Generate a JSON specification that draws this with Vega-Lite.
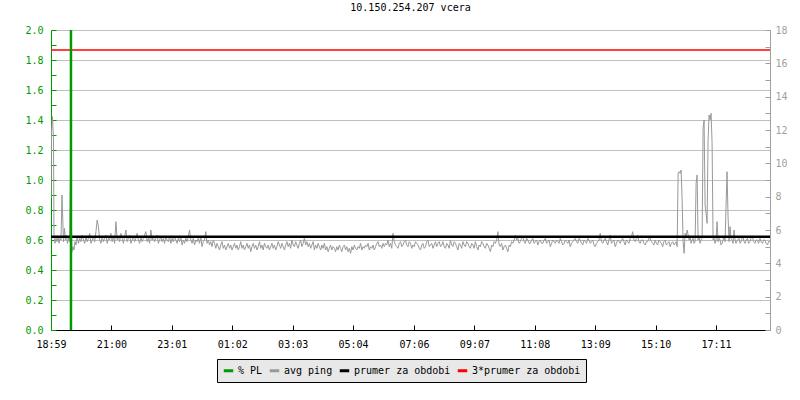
{
  "$schema": "https://vega.github.io/schema/vega-lite/v6.json",
  "width": 719,
  "height": 300,
  "autosize": "none",
  "padding": {"left": 51, "top": 30, "right": 30, "bottom": 70},
  "background": "white",
  "config": {
    "view": {"stroke": null},
    "font": "DejaVu Sans Mono",
    "axis": {"labelFont": "DejaVu Sans Mono", "labelFontSize": 10, "titleFont": "DejaVu Sans Mono", "labelOverlap": false},
    "legend": {"labelFont": "DejaVu Sans Mono", "labelFontSize": 10}
  },
  "title": {"text": "10.150.254.207 vcera", "font": "DejaVu Sans Mono", "fontSize": 10, "fontWeight": "normal", "color": "black", "anchor": "middle", "offset": 12},
  "datasets": {
    "ping": [
      {"t":0,"ms":7.9},{"t":1,"ms":11.9},{"t":3,"ms":12.8},{"t":5,"ms":11.4},{"t":6,"ms":5.6},{"t":8,"ms":5.2},{"t":10,"ms":5.5},{"t":12,"ms":5.3},{"t":14,"ms":5.6},{"t":16,"ms":5.2},{"t":18,"ms":5.5},{"t":20,"ms":5.4},
      {"t":22,"ms":8.1},{"t":23,"ms":7.2},{"t":25,"ms":5.3},{"t":27,"ms":6.1},{"t":29,"ms":5.4},{"t":31,"ms":5.7},{"t":33,"ms":5.2},{"t":35,"ms":5.5},{"t":37,"ms":5.3},{"t":39,"ms":9.1},{"t":40,"ms":7.4},{"t":42,"ms":4.7},
      {"t":44,"ms":5.0},{"t":46,"ms":4.8},{"t":48,"ms":5.3},{"t":50,"ms":5.1},
      {"t":52.5,"ms":5.6},{"t":55,"ms":5.2},{"t":57.5,"ms":5.5},{"t":60,"ms":5.3},{"t":62.5,"ms":5.7},{"t":65,"ms":5.4},{"t":67.5,"ms":5.2},{"t":70,"ms":5.6},
      {"t":72.5,"ms":5.3},{"t":75,"ms":5.5},{"t":77.5,"ms":5.8},{"t":80,"ms":5.2},{"t":82.5,"ms":5.4},{"t":85,"ms":5.6},{"t":87.5,"ms":5.3},{"t":90,"ms":5.9},
      {"t":92.5,"ms":6.6},{"t":95,"ms":6.2},{"t":97.5,"ms":5.4},{"t":100,"ms":5.2},{"t":102.5,"ms":5.6},{"t":105,"ms":5.3},{"t":107.5,"ms":5.5},{"t":110,"ms":5.7},
      {"t":112.5,"ms":5.2},{"t":115,"ms":5.5},{"t":117.5,"ms":5.4},{"t":120,"ms":5.8},{"t":122.5,"ms":5.3},{"t":125,"ms":5.6},{"t":127.5,"ms":5.2},{"t":130,"ms":6.5},
      {"t":132.5,"ms":5.4},{"t":135,"ms":5.6},{"t":137.5,"ms":5.3},{"t":140,"ms":5.8},{"t":142.5,"ms":5.5},{"t":145,"ms":5.2},{"t":147.5,"ms":5.6},{"t":150,"ms":6.0},
      {"t":152.5,"ms":5.3},{"t":155,"ms":5.5},{"t":157.5,"ms":5.7},{"t":160,"ms":5.2},{"t":162.5,"ms":5.4},{"t":165,"ms":5.6},{"t":167.5,"ms":5.3},{"t":170,"ms":5.5},
      {"t":172.5,"ms":5.8},{"t":175,"ms":5.4},{"t":177.5,"ms":5.2},{"t":180,"ms":5.6},{"t":182.5,"ms":5.3},{"t":185,"ms":5.5},{"t":187.5,"ms":5.7},{"t":190,"ms":5.9},
      {"t":192.5,"ms":5.3},{"t":195,"ms":5.5},{"t":197.5,"ms":5.2},{"t":200,"ms":6.0},{"t":202.5,"ms":5.4},{"t":205,"ms":5.6},{"t":207.5,"ms":5.3},{"t":210,"ms":5.5},
      {"t":212.5,"ms":5.7},{"t":215,"ms":5.2},{"t":217.5,"ms":5.4},{"t":220,"ms":5.6},{"t":222.5,"ms":5.3},{"t":225,"ms":5.5},{"t":227.5,"ms":5.2},{"t":230,"ms":5.6},
      {"t":232.5,"ms":5.4},{"t":235,"ms":5.3},{"t":237.5,"ms":5.6},{"t":240,"ms":5.2},{"t":242.5,"ms":5.5},{"t":245,"ms":5.3},{"t":247.5,"ms":5.6},{"t":250,"ms":5.4},
      {"t":252.5,"ms":5.2},{"t":255,"ms":5.5},{"t":257.5,"ms":5.3},{"t":260,"ms":5.6},{"t":262.5,"ms":5.1},{"t":265,"ms":5.4},{"t":267.5,"ms":5.2},{"t":270,"ms":5.5},
      {"t":272.5,"ms":5.3},{"t":275,"ms":5.6},{"t":277.5,"ms":6.0},{"t":280,"ms":5.4},{"t":282.5,"ms":5.2},{"t":285,"ms":5.5},{"t":287.5,"ms":5.1},{"t":290,"ms":5.4},
      {"t":292.5,"ms":5.3},{"t":295,"ms":5.5},{"t":297.5,"ms":5.2},{"t":300,"ms":5.6},{"t":302.5,"ms":5.0},{"t":305,"ms":5.3},{"t":307.5,"ms":5.4},{"t":310,"ms":5.9},
      {"t":312.5,"ms":5.2},{"t":315,"ms":5.4},{"t":317.5,"ms":5.1},{"t":320,"ms":5.3},{"t":322.5,"ms":5.0},{"t":325,"ms":5.4},{"t":327.5,"ms":5.2},{"t":330,"ms":4.9},
      {"t":332.5,"ms":5.2},{"t":335,"ms":5.0},{"t":337.5,"ms":4.8},{"t":340,"ms":5.1},{"t":342.5,"ms":5.3},{"t":345,"ms":4.9},{"t":347.5,"ms":5.1},{"t":350,"ms":4.8},
      {"t":352.5,"ms":5.0},{"t":355,"ms":5.2},{"t":357.5,"ms":4.9},{"t":360,"ms":5.1},{"t":362.5,"ms":4.8},{"t":365,"ms":5.0},{"t":367.5,"ms":5.2},{"t":370,"ms":4.9},
      {"t":372.5,"ms":5.1},{"t":375,"ms":4.8},{"t":377.5,"ms":5.0},{"t":380,"ms":5.3},{"t":382.5,"ms":4.9},{"t":385,"ms":5.1},{"t":387.5,"ms":4.8},{"t":390,"ms":5.0},
      {"t":392.5,"ms":5.2},{"t":395,"ms":4.9},{"t":397.5,"ms":5.1},{"t":400,"ms":4.7},{"t":402.5,"ms":5.0},{"t":405,"ms":5.2},{"t":407.5,"ms":4.9},{"t":410,"ms":5.1},
      {"t":412.5,"ms":4.8},{"t":415,"ms":5.0},{"t":417.5,"ms":5.3},{"t":420,"ms":4.9},{"t":422.5,"ms":5.1},{"t":425,"ms":4.8},{"t":427.5,"ms":5.2},{"t":430,"ms":5.0},
      {"t":432.5,"ms":4.9},{"t":435,"ms":5.1},{"t":437.5,"ms":4.8},{"t":440,"ms":5.0},{"t":442.5,"ms":5.2},{"t":445,"ms":4.9},{"t":447.5,"ms":5.1},{"t":450,"ms":4.8},
      {"t":452.5,"ms":5.0},{"t":455,"ms":5.3},{"t":457.5,"ms":5.1},{"t":460,"ms":4.9},{"t":462.5,"ms":5.2},{"t":465,"ms":5.0},{"t":467.5,"ms":4.8},{"t":470,"ms":5.1},
      {"t":472.5,"ms":5.3},{"t":475,"ms":5.0},{"t":477.5,"ms":5.2},{"t":480,"ms":4.9},{"t":482.5,"ms":5.4},{"t":485,"ms":5.1},{"t":487.5,"ms":5.0},{"t":490,"ms":5.3},
      {"t":492.5,"ms":5.1},{"t":495,"ms":4.9},{"t":497.5,"ms":5.2},{"t":500,"ms":5.4},{"t":502.5,"ms":5.0},{"t":505,"ms":5.2},{"t":507.5,"ms":5.5},{"t":510,"ms":5.1},
      {"t":512.5,"ms":5.3},{"t":515,"ms":5.0},{"t":517.5,"ms":5.2},{"t":520,"ms":4.9},{"t":522.5,"ms":5.1},{"t":525,"ms":5.3},{"t":527.5,"ms":4.8},{"t":530,"ms":5.1},
      {"t":532.5,"ms":4.9},{"t":535,"ms":5.2},{"t":537.5,"ms":5.0},{"t":540,"ms":4.8},{"t":542.5,"ms":5.1},{"t":545,"ms":4.9},{"t":547.5,"ms":5.2},{"t":550,"ms":4.8},
      {"t":552.5,"ms":5.0},{"t":555,"ms":4.7},{"t":557.5,"ms":4.9},{"t":560,"ms":5.1},{"t":562.5,"ms":4.8},{"t":565,"ms":5.0},{"t":567.5,"ms":4.9},{"t":570,"ms":4.7},
      {"t":572.5,"ms":5.0},{"t":575,"ms":4.8},{"t":577.5,"ms":5.1},{"t":580,"ms":4.9},{"t":582.5,"ms":4.7},{"t":585,"ms":5.0},{"t":587.5,"ms":5.1},{"t":590,"ms":4.8},
      {"t":592.5,"ms":5.0},{"t":595,"ms":4.7},{"t":597.5,"ms":4.9},{"t":600,"ms":4.6},{"t":602.5,"ms":5.0},{"t":605,"ms":4.8},{"t":607.5,"ms":5.1},{"t":610,"ms":4.9},
      {"t":612.5,"ms":4.8},{"t":615,"ms":5.0},{"t":617.5,"ms":4.9},{"t":620,"ms":5.2},{"t":622.5,"ms":4.8},{"t":625,"ms":5.0},{"t":627.5,"ms":4.9},{"t":630,"ms":5.1},
      {"t":632.5,"ms":5.0},{"t":635,"ms":5.2},{"t":637.5,"ms":4.8},{"t":640,"ms":5.0},{"t":642.5,"ms":4.9},{"t":645,"ms":5.1},{"t":647.5,"ms":4.8},{"t":650,"ms":5.0},
      {"t":652.5,"ms":5.2},{"t":655,"ms":5.3},{"t":657.5,"ms":5.0},{"t":660,"ms":5.1},{"t":662.5,"ms":4.9},{"t":665,"ms":5.2},{"t":667.5,"ms":5.0},{"t":670,"ms":5.2},
      {"t":672.5,"ms":5.1},{"t":675,"ms":5.4},{"t":677.5,"ms":5.0},{"t":680,"ms":5.2},{"t":682.5,"ms":4.9},{"t":685,"ms":5.8},{"t":687.5,"ms":5.3},{"t":690,"ms":5.1},
      {"t":692.5,"ms":5.0},{"t":695,"ms":4.9},{"t":697.5,"ms":5.2},{"t":700,"ms":5.3},{"t":702.5,"ms":5.0},{"t":705,"ms":5.1},{"t":707.5,"ms":5.3},{"t":710,"ms":5.4},
      {"t":712.5,"ms":5.1},{"t":715,"ms":5.0},{"t":717.5,"ms":5.3},{"t":720,"ms":5.2},{"t":722.5,"ms":4.9},{"t":725,"ms":5.1},{"t":727.5,"ms":5.0},{"t":730,"ms":5.3},
      {"t":732.5,"ms":5.2},{"t":735,"ms":5.1},{"t":737.5,"ms":4.9},{"t":740,"ms":4.8},{"t":742.5,"ms":5.1},{"t":745,"ms":5.2},{"t":747.5,"ms":4.9},{"t":750,"ms":5.0},
      {"t":752.5,"ms":5.3},{"t":755,"ms":5.4},{"t":757.5,"ms":5.0},{"t":760,"ms":5.1},{"t":762.5,"ms":5.2},{"t":765,"ms":4.9},{"t":767.5,"ms":5.1},{"t":770,"ms":5.3},
      {"t":772.5,"ms":5.0},{"t":775,"ms":5.2},{"t":777.5,"ms":5.3},{"t":780,"ms":5.0},{"t":782.5,"ms":5.1},{"t":785,"ms":5.3},{"t":787.5,"ms":5.0},{"t":790,"ms":4.9},
      {"t":792.5,"ms":5.2},{"t":795,"ms":5.1},{"t":797.5,"ms":4.9},{"t":800,"ms":5.4},{"t":802.5,"ms":5.1},{"t":805,"ms":5.0},{"t":807.5,"ms":5.3},{"t":810,"ms":5.2},
      {"t":812.5,"ms":5.0},{"t":815,"ms":4.8},{"t":817.5,"ms":5.2},{"t":820,"ms":5.1},{"t":822.5,"ms":4.9},{"t":825,"ms":5.3},{"t":827.5,"ms":5.1},{"t":830,"ms":5.0},
      {"t":832.5,"ms":5.3},{"t":835,"ms":5.2},{"t":837.5,"ms":5.0},{"t":840,"ms":4.9},{"t":842.5,"ms":5.2},{"t":845,"ms":5.1},{"t":847.5,"ms":4.9},{"t":850,"ms":5.3},
      {"t":852.5,"ms":5.0},{"t":855,"ms":4.8},{"t":857.5,"ms":5.1},{"t":860,"ms":5.0},{"t":862.5,"ms":5.3},{"t":865,"ms":5.2},{"t":867.5,"ms":5.0},{"t":870,"ms":4.9},
      {"t":872.5,"ms":5.2},{"t":875,"ms":5.1},{"t":877.5,"ms":4.9},{"t":880,"ms":4.7},{"t":882.5,"ms":5.1},{"t":885,"ms":5.0},{"t":887.5,"ms":5.3},{"t":890,"ms":5.2},
      {"t":892.5,"ms":5.4},{"t":895,"ms":5.9},{"t":897.5,"ms":5.1},{"t":900,"ms":5.0},{"t":902.5,"ms":5.2},{"t":905,"ms":4.8},{"t":907.5,"ms":5.0},{"t":910,"ms":5.1},
      {"t":912.5,"ms":4.9},{"t":915,"ms":4.7},{"t":917.5,"ms":5.1},{"t":920,"ms":5.0},{"t":922.5,"ms":5.3},{"t":925,"ms":5.2},{"t":927.5,"ms":5.4},{"t":930,"ms":5.7},
      {"t":932.5,"ms":5.4},{"t":935,"ms":5.5},{"t":937.5,"ms":5.2},{"t":940,"ms":5.3},{"t":942.5,"ms":5.5},{"t":945,"ms":5.6},{"t":947.5,"ms":5.3},{"t":950,"ms":5.2},
      {"t":952.5,"ms":5.5},{"t":955,"ms":5.4},{"t":957.5,"ms":5.2},{"t":960,"ms":5.2},{"t":962.5,"ms":5.4},{"t":965,"ms":5.5},{"t":967.5,"ms":5.2},{"t":970,"ms":5.3},
      {"t":972.5,"ms":5.4},{"t":975,"ms":5.1},{"t":977.5,"ms":5.3},{"t":980,"ms":5.4},{"t":982.5,"ms":5.2},{"t":985,"ms":5.2},{"t":987.5,"ms":5.4},{"t":990,"ms":5.5},
      {"t":992.5,"ms":5.2},{"t":995,"ms":5.3},{"t":997.5,"ms":5.4},{"t":1000,"ms":5.0},{"t":1002.5,"ms":5.2},{"t":1005,"ms":5.4},{"t":1007.5,"ms":5.3},{"t":1010,"ms":5.2},
      {"t":1012.5,"ms":5.4},{"t":1015,"ms":5.3},{"t":1017.5,"ms":5.2},{"t":1020,"ms":5.5},{"t":1022.5,"ms":5.3},{"t":1025,"ms":5.1},{"t":1027.5,"ms":5.2},{"t":1030,"ms":5.4},
      {"t":1032.5,"ms":5.3},{"t":1035,"ms":5.2},{"t":1037.5,"ms":5.4},{"t":1040,"ms":5.0},{"t":1042.5,"ms":5.2},{"t":1045,"ms":5.3},{"t":1047.5,"ms":5.4},{"t":1050,"ms":5.5},
      {"t":1052.5,"ms":5.3},{"t":1055,"ms":5.2},{"t":1057.5,"ms":5.5},{"t":1060,"ms":5.4},{"t":1062.5,"ms":5.2},{"t":1065,"ms":5.1},{"t":1067.5,"ms":5.4},{"t":1070,"ms":5.3},
      {"t":1072.5,"ms":5.2},{"t":1075,"ms":5.5},{"t":1077.5,"ms":5.4},{"t":1080,"ms":5.2},{"t":1082.5,"ms":5.3},{"t":1085,"ms":5.4},{"t":1087.5,"ms":5.1},{"t":1090,"ms":5.0},
      {"t":1092.5,"ms":5.2},{"t":1095,"ms":5.3},{"t":1097.5,"ms":5.4},{"t":1100,"ms":5.8},{"t":1102.5,"ms":5.3},{"t":1105,"ms":5.2},{"t":1107.5,"ms":5.4},{"t":1110,"ms":5.5},
      {"t":1112.5,"ms":5.3},{"t":1115,"ms":5.1},{"t":1117.5,"ms":5.4},{"t":1120,"ms":5.7},{"t":1122.5,"ms":5.2},{"t":1125,"ms":5.3},{"t":1127.5,"ms":5.4},{"t":1130,"ms":5.0},
      {"t":1132.5,"ms":5.2},{"t":1135,"ms":5.4},{"t":1137.5,"ms":5.3},{"t":1140,"ms":5.2},{"t":1142.5,"ms":5.4},{"t":1145,"ms":5.5},{"t":1147.5,"ms":5.3},{"t":1150,"ms":5.1},
      {"t":1152.5,"ms":5.4},{"t":1155,"ms":5.3},{"t":1157.5,"ms":5.2},{"t":1160,"ms":5.5},{"t":1162.5,"ms":5.6},{"t":1165,"ms":5.9},{"t":1167.5,"ms":5.4},{"t":1170,"ms":5.3},
      {"t":1172.5,"ms":5.5},{"t":1175,"ms":5.7},{"t":1177.5,"ms":5.3},{"t":1180,"ms":5.2},{"t":1182.5,"ms":5.4},{"t":1185,"ms":5.4},{"t":1187.5,"ms":5.2},{"t":1190,"ms":5.1},
      {"t":1192.5,"ms":5.3},{"t":1195,"ms":5.3},{"t":1197.5,"ms":5.5},{"t":1200,"ms":5.5},{"t":1202.5,"ms":5.3},{"t":1205,"ms":5.2},{"t":1207.5,"ms":5.1},{"t":1210,"ms":5.4},
      {"t":1212.5,"ms":5.2},{"t":1215,"ms":5.1},{"t":1217.5,"ms":5.4},{"t":1220,"ms":5.3},{"t":1222.5,"ms":5.2},{"t":1225,"ms":5.0},{"t":1227.5,"ms":5.3},{"t":1230,"ms":5.4},
      {"t":1232.5,"ms":5.1},{"t":1235,"ms":5.2},{"t":1237.5,"ms":5.3},{"t":1240,"ms":5.0},{"t":1242.5,"ms":5.2},{"t":1245,"ms":5.3},
      {"t":1248,"ms":5.1},{"t":1250,"ms":5.2},{"t":1252,"ms":5.3},{"t":1254,"ms":5.0},{"t":1256,"ms":9.4},{"t":1258,"ms":9.5},{"t":1260,"ms":9.4},{"t":1262,"ms":9.6},{"t":1264,"ms":7.8},{"t":1266,"ms":5.3},{"t":1268,"ms":4.6},{"t":1270,"ms":5.8},{"t":1272,"ms":5.6},{"t":1274,"ms":6.0},
      {"t":1276,"ms":5.7},{"t":1278,"ms":5.4},{"t":1280,"ms":5.6},{"t":1282,"ms":5.2},{"t":1284,"ms":5.4},{"t":1286,"ms":5.5},{"t":1288,"ms":5.2},{"t":1290,"ms":5.3},{"t":1292,"ms":8.8},{"t":1294,"ms":9.3},{"t":1296,"ms":5.4},{"t":1298,"ms":5.6},{"t":1300,"ms":5.2},{"t":1302,"ms":5.4},{"t":1304,"ms":5.5},{"t":1306,"ms":12.1},{"t":1308,"ms":12.6},{"t":1310,"ms":7.5},
      {"t":1312,"ms":7.0},{"t":1314,"ms":6.4},{"t":1316,"ms":11.4},{"t":1318,"ms":12.9},{"t":1320,"ms":12.6},{"t":1322,"ms":13.0},{"t":1324,"ms":11.2},{"t":1326,"ms":5.4},{"t":1328,"ms":5.5},{"t":1330,"ms":5.2},{"t":1332,"ms":5.4},{"t":1334,"ms":6.5},{"t":1336,"ms":5.3},{"t":1338,"ms":5.5},{"t":1340,"ms":5.4},
      {"t":1342,"ms":5.1},{"t":1344,"ms":5.2},{"t":1346,"ms":5.4},{"t":1348,"ms":5.6},{"t":1350,"ms":5.3},{"t":1352,"ms":7.5},{"t":1354,"ms":9.5},{"t":1356,"ms":6.8},{"t":1358,"ms":5.3},{"t":1360,"ms":6.2},{"t":1362,"ms":5.5},{"t":1364,"ms":5.4},{"t":1366,"ms":5.2},{"t":1368,"ms":6.0},{"t":1370,"ms":5.4},{"t":1372,"ms":5.2},{"t":1375,"ms":5.4},
      {"t":1378,"ms":5.5},{"t":1380,"ms":5.2},{"t":1382,"ms":5.3},{"t":1384,"ms":5.5},{"t":1386,"ms":5.6},{"t":1388,"ms":5.3},{"t":1390,"ms":5.2},{"t":1392,"ms":5.4},{"t":1395,"ms":5.5},{"t":1397,"ms":5.2},{"t":1400,"ms":5.3},{"t":1402,"ms":5.5},{"t":1405,"ms":5.6},{"t":1407,"ms":5.3},
      {"t":1410,"ms":5.2},{"t":1412,"ms":5.4},{"t":1415,"ms":5.4},{"t":1417,"ms":5.2},{"t":1420,"ms":5.5},{"t":1422,"ms":5.3},{"t":1425,"ms":5.2},{"t":1427,"ms":5.4},{"t":1430,"ms":5.4},{"t":1432,"ms":5.2},{"t":1435,"ms":5.1},{"t":1437,"ms":5.3},{"t":1440,"ms":5.3}
    ],
    "means": [
      {"series": "prumer za obdobi", "v": 5.6},
      {"series": "3*prumer za obdobi", "v": 16.8}
    ],
    "pl": [
      {"t": 40, "pl": 2.0, "series": "% PL"}
    ]
  },
  "resolve": {"scale": {"y": "independent"}},
  "layer": [
    {
      "layer": [
        {
          "data": {"name": "ping"},
          "mark": {"type": "line", "strokeWidth": 1, "clip": true, "color": "#999999"},
          "encoding": {
            "x": {"field": "t", "type": "quantitative", "scale": {"domain": [0, 1440], "nice": false, "zero": false},
              "axis": {"title": null, "orient": "bottom", "values": [0,121,242,363,484,605,727,848,969,1090,1211,1332],
                "labelExpr": "timeFormat(datetime(2000,0,1,18,59+datum.value),'%H:%M')",
                "grid": false, "domainColor": "black", "domainWidth": 1, "tickColor": "black", "tickSize": -5, "labelPadding": 14, "labelColor": "black", "labelFlush": false}},
            "y": {"field": "ms", "type": "quantitative", "scale": {"domain": [0, 18], "nice": false, "zero": true},
              "axis": {"title": null, "orient": "right", "values": [0,1,2,3,4,5,6,7,8,9,10,11,12,13,14,15,16,17,18],
                "labelExpr": "datum.value % 2 == 0 ? datum.value : ''", "grid": false, "labelOverlap": false,
                "domainColor": "#a0a0a0", "tickColor": "#a0a0a0", "labelColor": "#a0a0a0", "tickSize": -5, "labelPadding": 10}}
          }
        },
        {
          "data": {"name": "means"},
          "mark": {"type": "rule"},
          "encoding": {
            "y": {"field": "v", "type": "quantitative",
              "axis": {"title": null, "orient": "right", "values": [0,1,2,3,4,5,6,7,8,9,10,11,12,13,14,15,16,17,18],
                "labelExpr": "datum.value % 2 == 0 ? datum.value : ''", "grid": false, "labelOverlap": false,
                "domainColor": "#a0a0a0", "tickColor": "#a0a0a0", "labelColor": "#a0a0a0", "tickSize": -5, "labelPadding": 10}},
            "color": {"field": "series", "type": "nominal",
              "scale": {"domain": ["% PL", "avg ping", "prumer za obdobi", "3*prumer za obdobi"], "range": ["#009a00", "#999999", "#000000", "#ff0000"]},
              "legend": {"title": null, "orient": "none", "legendX": 166, "legendY": 329, "direction": "horizontal",
                "fillColor": "#e8e8e8", "strokeColor": "#000000", "padding": 5, "symbolType": "stroke", "symbolSize": 90,
                "symbolStrokeWidth": 3, "labelOffset": 3, "columnPadding": 0, "labelColor": "black"}},
            "strokeWidth": {"field": "series", "type": "nominal", "scale": {"domain": ["prumer za obdobi", "3*prumer za obdobi"], "range": [2.5, 1.3]}, "legend": null}
          }
        }
      ]
    },
    {
      "data": {"name": "pl"},
      "mark": {"type": "rule", "strokeWidth": 2.5},
      "encoding": {
        "x": {"field": "t", "type": "quantitative"},
        "y": {"field": "pl", "type": "quantitative", "scale": {"domain": [0, 2], "nice": false},
          "axis": {"title": null, "orient": "left", "values": [0,0.1,0.2,0.3,0.4,0.5,0.6,0.7,0.8,0.9,1.0,1.1,1.2,1.3,1.4,1.5,1.6,1.7,1.8,1.9,2.0],
            "labelExpr": "round(datum.value*10) % 2 == 0 ? format(datum.value, '.1f') : ''", "labelOverlap": false,
            "grid": true, "gridColor": "#c0c0c0", "gridOpacity": {"condition": {"test": "round(datum.value*10) % 2 == 0", "value": 1}, "value": 0},
            "domainColor": "#009a00", "tickColor": "#009a00", "labelColor": "#009a00", "tickSize": -5, "labelPadding": 13}},
        "y2": {"datum": 0},
        "color": {"field": "series", "type": "nominal"}
      }
    }
  ]
}
